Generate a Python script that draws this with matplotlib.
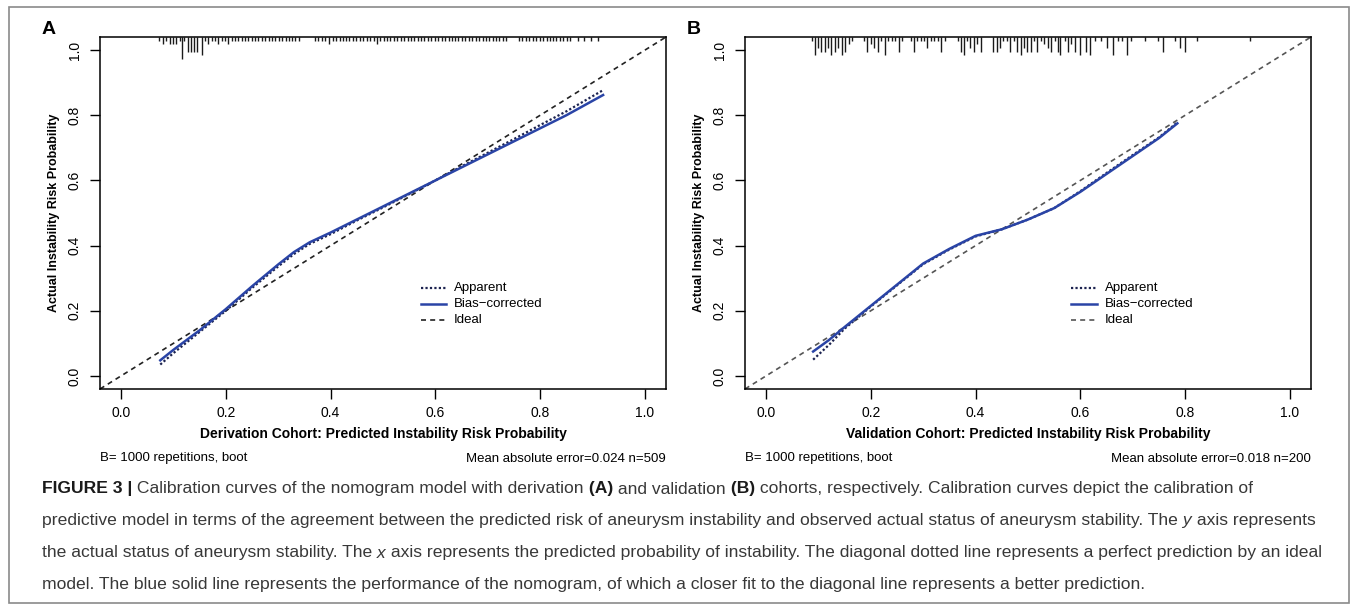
import numpy as np
import matplotlib.pyplot as plt
from matplotlib.patches import Rectangle

plt.rcParams['font.family'] = ['Liberation Sans', 'DejaVu Sans']

# panel A (derivation cohort) calibration curves
a_x = [0.075, 0.10, 0.15, 0.20, 0.25, 0.30, 0.33, 0.36, 0.40, 0.45, 0.50, 0.55, 0.60,
       0.65, 0.70, 0.75, 0.80, 0.85, 0.92]
a_bias = [0.048, 0.08, 0.14, 0.205, 0.275, 0.342, 0.38, 0.41, 0.44, 0.48, 0.52, 0.56,
          0.60, 0.64, 0.68, 0.72, 0.76, 0.80, 0.862]
a_app = [0.035, 0.07, 0.135, 0.20, 0.27, 0.336, 0.374, 0.405, 0.435, 0.477, 0.517, 0.558,
         0.60, 0.643, 0.685, 0.727, 0.77, 0.812, 0.877]

# panel B (validation cohort)
b_x = [0.09, 0.12, 0.15, 0.20, 0.25, 0.30, 0.35, 0.40, 0.45, 0.50, 0.55, 0.60,
       0.65, 0.70, 0.75, 0.785]
b_bias = [0.075, 0.11, 0.15, 0.215, 0.28, 0.345, 0.39, 0.43, 0.45, 0.48, 0.515,
          0.565, 0.62, 0.675, 0.73, 0.775]
b_app = [0.05, 0.095, 0.145, 0.213, 0.278, 0.343, 0.388, 0.428, 0.45, 0.48, 0.515,
         0.567, 0.623, 0.678, 0.732, 0.778]

# rug of predicted probabilities (position, frequency)
rug_a_x = [0.073, 0.080, 0.086, 0.093, 0.099, 0.105, 0.112, 0.116, 0.120, 0.127, 0.133,
           0.139, 0.146, 0.154, 0.160, 0.166, 0.173, 0.179, 0.186, 0.192, 0.198, 0.205,
           0.211, 0.218, 0.224, 0.230, 0.237, 0.243, 0.250, 0.256, 0.262, 0.269, 0.275,
           0.282, 0.288, 0.294, 0.301, 0.307, 0.314, 0.320, 0.326, 0.333, 0.340, 0.370,
           0.376, 0.383, 0.390, 0.397, 0.404, 0.410, 0.417, 0.423, 0.430, 0.436, 0.443,
           0.449, 0.456, 0.462, 0.469, 0.475, 0.482, 0.488, 0.495, 0.501, 0.508, 0.514,
           0.521, 0.527, 0.534, 0.540, 0.547, 0.553, 0.560, 0.566, 0.573, 0.579, 0.586,
           0.592, 0.599, 0.605, 0.612, 0.618, 0.625, 0.631, 0.638, 0.644, 0.651, 0.657,
           0.664, 0.670, 0.677, 0.683, 0.690, 0.696, 0.703, 0.709, 0.716, 0.722, 0.729,
           0.735, 0.760, 0.766, 0.773, 0.779, 0.786, 0.792, 0.799, 0.805, 0.812, 0.818,
           0.825, 0.831, 0.838, 0.844, 0.851, 0.857, 0.873, 0.884, 0.897, 0.910]
rug_a_n = [1, 2, 1, 2, 2, 2, 1, 6, 1, 4, 4, 4, 4, 5, 1, 2, 1, 1, 2, 1, 1, 2,
           1, 1, 1, 1, 1, 1, 1, 1, 1, 1, 1, 1, 1, 1, 1, 1, 1, 1, 1, 1, 1, 1,
           1, 1, 1, 2, 1, 1, 1, 1, 1, 1, 1, 1, 1, 1, 1, 1, 1, 2, 1, 1, 1, 1,
           1, 1, 1, 1, 1, 1, 1, 1, 1, 1, 1, 1, 1, 1, 1, 1, 1, 1, 1, 1, 1, 1,
           1, 1, 1, 1, 1, 1, 1, 1, 1, 1, 1, 1, 1, 1, 1, 1, 1, 1, 1, 1, 1, 1,
           1, 1, 1, 1, 1, 1, 1, 1, 1, 1]

rug_b_x = [0.088, 0.093, 0.099, 0.105, 0.112, 0.118, 0.124, 0.131, 0.137, 0.145, 0.151,
           0.158, 0.164, 0.187, 0.193, 0.200, 0.206, 0.213, 0.220, 0.227, 0.233, 0.240,
           0.246, 0.253, 0.259, 0.276, 0.282, 0.289, 0.295, 0.302, 0.308, 0.315, 0.321,
           0.328, 0.334, 0.341, 0.366, 0.372, 0.377, 0.384, 0.390, 0.397, 0.403, 0.410,
           0.434, 0.440, 0.447, 0.453, 0.460, 0.466, 0.473, 0.479, 0.486, 0.492, 0.499,
           0.505, 0.512, 0.518, 0.525, 0.531, 0.538, 0.544, 0.551, 0.557, 0.562, 0.570,
           0.577, 0.583, 0.590, 0.600, 0.610, 0.619, 0.628, 0.640, 0.650, 0.663, 0.672,
           0.680, 0.688, 0.697, 0.724, 0.749, 0.758, 0.781, 0.790, 0.800, 0.823, 0.924]
rug_b_n = [1, 5, 3, 4, 4, 3, 5, 4, 3, 5, 4, 2, 1, 1, 4, 2, 3, 4, 1, 5, 1, 1,
           1, 4, 1, 1, 4, 1, 1, 1, 3, 1, 1, 1, 4, 1, 1, 4, 5, 1, 3, 4, 2, 4,
           4, 4, 3, 1, 1, 4, 1, 4, 5, 3, 4, 4, 1, 4, 1, 2, 3, 4, 1, 4, 5, 1,
           4, 2, 4, 5, 4, 5, 1, 1, 3, 5, 1, 1, 5, 1, 1, 1, 4, 1, 3, 4, 1, 1]

panels = [
    dict(letter='A', x=a_x, app=a_app, bias=a_bias, rx=rug_a_x, rn=rug_a_n,
         xlabel='Derivation Cohort: Predicted Instability Risk Probability',
         mae='Mean absolute error=0.024 n=509', ideal='#222222'),
    dict(letter='B', x=b_x, app=b_app, bias=b_bias, rx=rug_b_x, rn=rug_b_n,
         xlabel='Validation Cohort: Predicted Instability Risk Probability',
         mae='Mean absolute error=0.018 n=200', ideal='#555555'),
]

W, H = 1357, 610
fig = plt.figure(figsize=(W / 100, H / 100), dpi=100)
fig.patches.append(Rectangle((9 / W, 7 / H), 1340 / W, 596 / H, transform=fig.transFigure,
                             fill=False, edgecolor='#8a8a8a', linewidth=1.2))

blue = '#2a44a6'
lefts = [100, 745]
for p, left in zip(panels, lefts):
    ax = fig.add_axes([left / W, (H - 389) / H, 566 / W, 352 / H])
    ax.set_xlim(-0.04, 1.04)
    ax.set_ylim(-0.04, 1.04)
    ax.axline((0, 0), (1, 1), color=p['ideal'], lw=1.2, dashes=(3, 2.5))
    ax.plot(p['x'], p['app'], color='#1c2350', lw=1.6, dashes=(1, 1))
    ax.plot(p['x'], p['bias'], color=blue, lw=1.8)
    # rug on top
    for xv, n in zip(p['rx'], p['rn']):
        ax.plot([xv, xv], [1.0, 1.0 - 0.0105 * n], transform=ax.get_xaxis_transform(),
                color='#1a1a1a', lw=1.0, solid_capstyle='butt', clip_on=False)

    # legend
    legx = 0.572 if p['letter'] == 'A' else 0.583
    rows = [('Apparent', dict(color='#1c2350', lw=1.6, dashes=(1, 1))),
            ('Bias\u2212corrected', dict(color=blue, lw=1.8)),
            ('Ideal', dict(color=p['ideal'], lw=1.2, dashes=(3, 2.5)))]
    for i, (lab, st) in enumerate(rows):
        yy = 0.27 - 0.049 * i
        ax.plot([legx, legx + 0.048], [yy, yy], **st)
        ax.text(legx + 0.063, yy, lab, fontsize=9.5, va='center', ha='left')

    ax.set_xticks([0, 0.2, 0.4, 0.6, 0.8, 1.0])
    ax.set_yticks([0, 0.2, 0.4, 0.6, 0.8, 1.0])
    ax.set_xticklabels(['0.0', '0.2', '0.4', '0.6', '0.8', '1.0'], fontsize=10)
    ax.set_yticklabels(['0.0', '0.2', '0.4', '0.6', '0.8', '1.0'], fontsize=10,
                       rotation=90, va='center')
    ax.tick_params(length=7, width=1, pad=5)
    ax.tick_params(axis='y', pad=6)
    for s in ax.spines.values():
        s.set_linewidth(1.1)
    ax.set_xlabel(p['xlabel'], fontsize=10, fontweight='bold', labelpad=5)
    ax.set_ylabel('Actual Instability Risk Probability', fontsize=9, fontweight='bold',
                  labelpad=6)
    ax.text(0, -0.195, 'B= 1000 repetitions, boot', transform=ax.transAxes,
            fontsize=9.5, ha='left', va='center')
    ax.text(1, -0.2, p['mae'], transform=ax.transAxes, fontsize=9.5, ha='right',
            va='center')
    fig.text((left - 58) / W, 1 - 30 / H, p['letter'], fontsize=14, fontweight='bold',
             ha='left', va='center')

# caption with mixed styles
caption = [
    [('FIGURE 3 |', 'bold'), (' Calibration curves of the nomogram model with derivation', 'normal'),
     (' (A)', 'bold'), (' and validation', 'normal'), (' (B)', 'bold'),
     (' cohorts, respectively. Calibration curves depict the calibration of', 'normal')],
    [('predictive model in terms of the agreement between the predicted risk of aneurysm '
      'instability and observed actual status of aneurysm stability. The', 'normal'),
     (' y', 'italic'), (' axis represents', 'normal')],
    [('the actual status of aneurysm stability. The', 'normal'), (' x', 'italic'),
     (' axis represents the predicted probability of instability. The diagonal dotted line '
      'represents a perfect prediction by an ideal', 'normal')],
    [('model. The blue solid line represents the performance of the nomogram, of which a '
      'closer fit to the diagonal line represents a better prediction.', 'normal')],
]
renderer = fig.canvas.get_renderer()
for i, line in enumerate(caption):
    x = 42
    y = 489 + 32 * i
    for txt, style in line:
        t = fig.text(x / W, 1 - y / H, txt, fontsize=12.6, va='center', ha='left',
                     color='#1a1a1a' if style == 'bold' else '#383838',
                     fontweight='bold' if style == 'bold' else 'normal',
                     fontstyle='italic' if style == 'italic' else 'normal')
        x += t.get_window_extent(renderer).width

fig.savefig('out.png', dpi=100)
